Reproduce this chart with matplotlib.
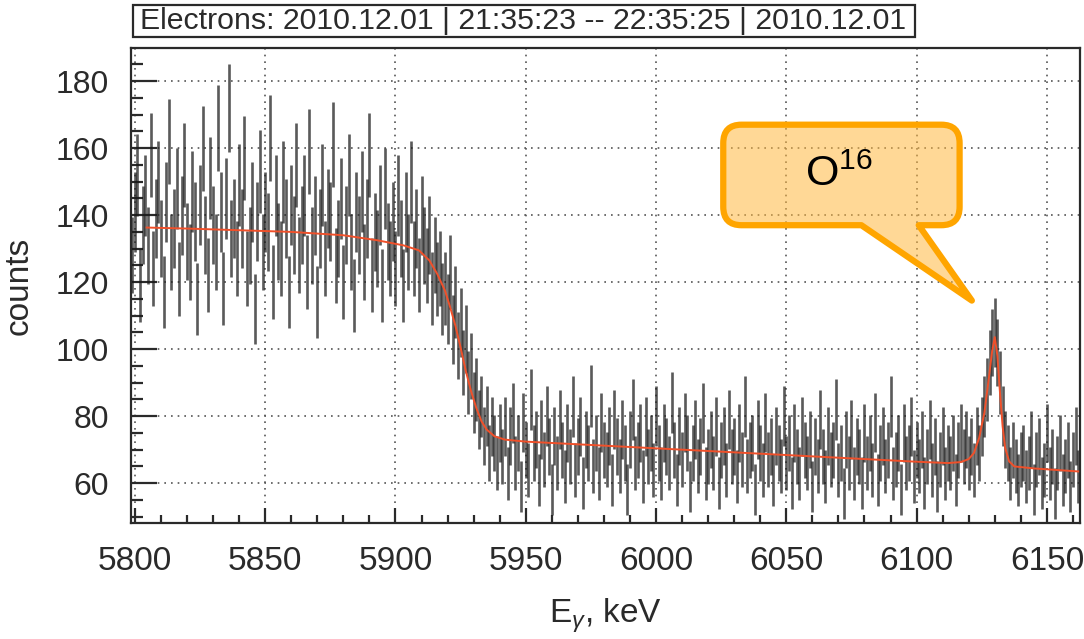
import numpy as np
import matplotlib
matplotlib.use("Agg")
import matplotlib.pyplot as plt
from matplotlib.path import Path
from matplotlib.patches import PathPatch, Rectangle

plt.rcParams['font.family'] = ['Liberation Sans', 'DejaVu Sans']
plt.rcParams['mathtext.fontset'] = 'custom'
plt.rcParams['mathtext.rm'] = 'Liberation Sans'
plt.rcParams['mathtext.it'] = 'Liberation Sans:italic'

# histogram: 1 keV bins, first bin centred at 5799 keV
first_bin = 5799
counts_plateau = [
    128, 141, 152, 119, 137, 146, 131, 158, 124, 139, 150, 133, 117, 144, 162, 129, 136, 148, 121, 140,
    155, 132, 126, 147, 138, 115, 143, 160, 134, 122, 151, 137, 129, 166, 141, 118, 145, 172, 133, 139,
    127, 149, 136, 157, 124, 131, 144, 112, 138, 153, 129, 141, 135, 163, 120, 146, 132, 127, 150, 139,
    117, 143, 134, 155, 128, 137, 146, 123, 159, 131, 140, 114, 136, 149, 127, 142, 138, 161, 125, 133,
    145, 120, 137, 152, 129, 116, 141, 134, 147, 126, 139, 158, 122, 135, 130, 143, 119, 148, 132, 127,
    138, 124, 146, 133, 119, 141, 129, 150, 127, 136, 122, 140, 131, 125, 134, 118, 128, 121, 124, 115,
]
counts_edge = [118, 112, 123, 106, 114, 101, 108, 96, 103, 90, 95, 84, 88, 79, 83, 74, 80, 69, 77, 72, 66, 75]
counts_tail = [
    68, 77, 63, 74, 81, 66, 72, 59, 78, 70, 64, 85, 69, 73, 61, 76, 67, 80, 71, 58,
    74, 66, 79, 70, 62, 75, 68, 83, 64, 71, 77, 60, 73, 69, 86, 65, 72, 63, 78, 70,
    67, 74, 61, 79, 71, 65, 76, 69, 58, 73, 82, 66, 70, 75, 62, 77, 68, 72, 64, 80,
    69, 63, 75, 71, 66, 84, 70, 61, 74, 67, 78, 72, 59, 69, 76, 65, 71, 81, 63, 68,
    73, 66, 77, 60, 70, 74, 64, 79, 68, 71, 62, 75, 67, 83, 65, 70, 72, 58, 76, 69,
    64, 78, 67, 71, 61, 74, 69, 65, 80, 66, 72, 60, 75, 68, 63, 77, 70, 66, 73, 59,
    71, 65, 79, 68, 62, 74, 67, 70, 82, 64, 69, 57, 73, 66, 76, 63, 71, 68, 60, 75,
    66, 72, 64, 78, 61, 69, 74, 65, 70, 83, 63, 67, 72, 58, 75, 66, 69, 77, 62, 70,
    65, 73, 60, 68, 76, 64, 71, 59, 67, 74, 63, 69, 66, 72, 61, 70, 75, 68, 73,
]
counts_peak = [66, 71, 64, 74, 69, 77, 83, 88, 96, 102, 105, 99, 90, 80, 73, 69, 63, 70, 65, 61, 67]
counts_end = [69, 62, 66, 73, 58, 67, 71, 60, 64, 75, 63, 68, 57, 66, 72, 61, 65, 70, 59, 67, 74, 62]

# fitted curve (step + linear background + gaussian line)
fit_energy = [5804.5, 5820, 5840, 5860, 5880, 5893, 5903, 5909, 5913, 5916, 5919, 5921, 5923, 5925,
              5927, 5929, 5931, 5933, 5935, 5938, 5942, 5950, 5970, 5990, 6010, 6040, 6070, 6100,
              6112, 6117, 6120, 6122, 6124, 6126, 6127.5, 6129, 6130, 6131, 6132, 6133, 6134,
              6135.5, 6137.5, 6145, 6162]
fit_counts = [136.3, 136, 135.5, 135, 134, 132.5, 131, 129.5, 126.5, 122.5, 117.5, 112.5, 107, 100.5,
              93.5, 87.5, 82.5, 78.5, 76, 74, 73, 72.4, 71.6, 70.8, 70, 68.8, 67.6, 66.4,
              66, 66.3, 67.2, 69, 73.5, 81, 90, 99.5, 103.6, 98, 87, 77, 70.5,
              66.5, 65, 64.4, 63.5]

x_ticks = [5800, 5850, 5900, 5950, 6000, 6050, 6100, 6150]
y_ticks = [60, 80, 100, 120, 140, 160, 180]

counts = np.array(counts_plateau + counts_edge + counts_tail + counts_peak + counts_end, dtype=float)
energy = first_bin + np.arange(len(counts))
err = np.sqrt(counts)

fig = plt.figure(figsize=(10.84, 6.39), dpi=100)
ax = fig.add_axes([0.1213, 0.182, 0.875, 0.7424])

ax.vlines(energy, counts - err, counts + err, color='#1a1a1a', lw=1.9, alpha=0.72, zorder=2)
ax.plot(fit_energy, fit_counts, color='#f0502a', lw=1.4, zorder=3)

ax.set_xlim(5798.7, 6162.7)
ax.set_ylim(48.2, 189.8)
ax.set_xticks(x_ticks)
ax.set_yticks(y_ticks)
ax.set_xticks(np.arange(5800, 6161, 10), minor=True)
ax.set_yticks(np.arange(50, 190, 5), minor=True)
ax.grid(True, which='major', color='#555555', linestyle=(0, (1, 3)), lw=1.2)
ax.set_axisbelow(True)

ax.tick_params(axis='both', which='both', direction='in', colors='#2a2a2a', width=1.6)
ax.tick_params(axis='y', which='major', length=19, pad=16, labelsize=23)
ax.tick_params(axis='y', which='minor', length=8.5)
ax.tick_params(axis='x', which='major', length=11, pad=17, labelsize=24)
ax.tick_params(axis='x', which='minor', length=6)
for s in ax.spines.values():
    s.set_linewidth(1.6)
    s.set_color('#2a2a2a')

ax.set_ylabel('counts', fontsize=24, color='#2a2a2a', labelpad=15)
ax.set_xlabel(r'E$_{\gamma}$, keV', fontsize=24, color='#2a2a2a', labelpad=14)

# title box
fig.patches.append(Rectangle((133 / 1084, 1 - 37 / 639), 782 / 1084, 32 / 639,
                             transform=fig.transFigure, fill=False, ec='#2a2a2a', lw=1.6))
fig.text(140 / 1084, 1 - 21 / 639, 'Electrons: 2010.12.01 | 21:35:23 -- 22:35:25 | 2010.12.01',
         fontsize=21.8, color='#2a2a2a', va='center', ha='left')

# speech bubble pointing at the 16O line
x0, x1, yb, yt = 6025.8, 6116.5, 137.0, 167.0
rx, ry = 7.0, 5.5
tip = (6121.2, 114.5)
verts = [(x0 + rx, yt), (x1 - rx, yt), (x1, yt), (x1, yt - ry), (x1, yb + ry), (x1, yb), (x1 - rx, yb),
         (6100.8, yb), tip, (6078.8, yb), (x0 + rx, yb), (x0, yb), (x0, yb + ry), (x0, yt - ry),
         (x0, yt), (x0 + rx, yt), (x0 + rx, yt)]
codes = [Path.MOVETO, Path.LINETO, Path.CURVE3, Path.CURVE3, Path.LINETO, Path.CURVE3, Path.CURVE3,
         Path.LINETO, Path.LINETO, Path.LINETO, Path.LINETO, Path.CURVE3, Path.CURVE3, Path.LINETO,
         Path.CURVE3, Path.CURVE3, Path.CLOSEPOLY]
bubble = PathPatch(Path(verts, codes), facecolor=(1.0, 0.72, 0.25, 0.55), edgecolor='#ffa500',
                   lw=4.5, joinstyle='round', clip_on=False, zorder=5)
ax.add_patch(bubble)
ax.text(6070.4, 152, r'O$^{16}$', fontsize=31, ha='center', va='center', color='black', zorder=6)

fig.savefig('out.png', dpi=100)
